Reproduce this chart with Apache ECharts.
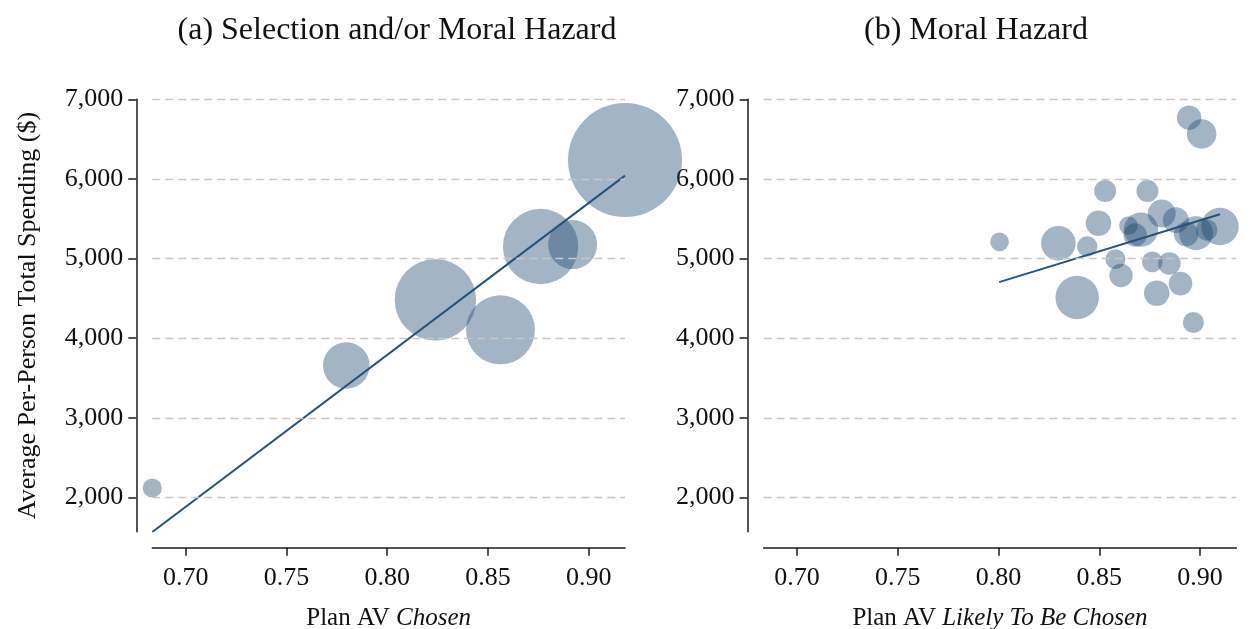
<!DOCTYPE html>
<html>
<head>
<meta charset="utf-8">
<script src="https://cdn.jsdelivr.net/npm/echarts@6/dist/echarts.min.js"></script>
<style>
  html, body { margin: 0; padding: 0; background: #fff; }
  #chart { width: 1252px; height: 629px; }
</style>
</head>
<body>
<div id="chart"></div>
<script>
// ---- data ----
const xTickValues = [0.70, 0.75, 0.80, 0.85, 0.90];
const yTickValues = [2000, 3000, 4000, 5000, 6000, 7000];

// Panel (a): plan AV chosen
const chosenAV     = [0.6834, 0.7797, 0.8239, 0.8562, 0.8761, 0.8920, 0.9180];
const chosenSpend  = [2119, 3657, 4482, 4105, 5151, 5176, 6238];
const chosenWeight = [2.8, 16.7, 51.0, 36.6, 43.7, 18.5, 100];
const chosenFitAV    = [0.6834, 0.9180];
const chosenFitSpend = [1567, 6041];

// Panel (b): plan AV likely to be chosen
const likelyAV = [0.8005, 0.8297, 0.8390, 0.8440, 0.8496, 0.8529, 0.8580, 0.8608, 0.8645, 0.8678,
                  0.8707, 0.8739, 0.8763, 0.8785, 0.8810, 0.8848, 0.8880, 0.8903, 0.8931, 0.8946,
                  0.8967, 0.8980, 0.9008, 0.9033, 0.9099];
const likelySpend = [5210, 5193, 4511, 5151, 5444, 5849, 4992, 4787, 5414, 5297,
                     5364, 5849, 4959, 4566, 5565, 4937, 5482, 4686, 5306, 6769,
                     4197, 5319, 6565, 5360, 5402];
const likelyWeight = [2.7, 9.2, 14.5, 3.2, 5.0, 3.7, 3.1, 4.2, 2.7, 4.2,
                      9.1, 3.7, 3.3, 5.0, 6.0, 3.9, 5.2, 4.3, 4.6, 4.6,
                      3.4, 8.9, 6.7, 3.5, 10.8];
const likelyFitAV    = [0.8003, 0.9099];
const likelyFitSpend = [4704, 5557];

const titles = ['(a) Selection and/or Moral Hazard', '(b) Moral Hazard'];

// ---- styles ----
const FONT = 'Liberation Serif';
const NAVY = '#1a476f';
const MAX_DIAM = 114;
const X_MIN = 0.6834, X_MAX = 0.918;
const Y_MIN = 1570, Y_MAX = 7000;

const zip = (a, b, c) => a.map((v, i) => c ? [v, b[i], c[i]] : [v, b[i]]);
const fmtY = v => String(v).replace(/\B(?=(\d{3})+(?!\d))/g, ',');

function xAxisFor(idx, nameRich) {
  return {
    type: 'value', gridIndex: idx, min: X_MIN, max: X_MAX, offset: 16,
    axisLine: { show: true, onZero: false, lineStyle: { color: '#1a1a1a', width: 1.5 } },
    axisTick: { show: true, length: 8, customValues: xTickValues, lineStyle: { color: '#1a1a1a', width: 1.5 } },
    axisLabel: { customValues: xTickValues, formatter: v => v.toFixed(2), margin: 17,
                 fontFamily: FONT, fontSize: 26, color: '#111' },
    splitLine: { show: false },
    name: nameRich, nameLocation: 'middle', nameGap: 58,
    nameTextStyle: { fontFamily: FONT, fontSize: 25, color: '#111',
      rich: { it: { fontFamily: FONT, fontSize: 25, fontStyle: 'italic', color: '#111' },
              n: { fontFamily: FONT, fontSize: 25, color: '#111' } } }
  };
}
function yAxisFor(idx, name) {
  return {
    type: 'value', gridIndex: idx, min: Y_MIN, max: Y_MAX, offset: 16,
    axisLine: { show: true, lineStyle: { color: '#1a1a1a', width: 1.5 } },
    axisTick: { show: true, length: 8, customValues: yTickValues, lineStyle: { color: '#1a1a1a', width: 1.5 } },
    axisLabel: { customValues: yTickValues, formatter: fmtY, margin: 13,
                 fontFamily: FONT, fontSize: 26, color: '#111' },
    splitLine: { show: false },
    name: name, nameLocation: 'middle', nameGap: 95, nameRotate: 90,
    nameTextStyle: { fontFamily: FONT, fontSize: 26, color: '#111' }
  };
}
function gridLines() {
  return {
    silent: true, symbol: 'none', label: { show: false }, animation: false,
    lineStyle: { type: [8, 5], color: '#c8c8c8', width: 1.3 },
    emphasis: { disabled: true },
    data: yTickValues.map(v => ({ yAxis: v }))
  };
}
function bubbles(idx, data) {
  return {
    type: 'scatter', xAxisIndex: idx, yAxisIndex: idx, clip: false,
    data: data,
    symbolSize: v => MAX_DIAM * Math.sqrt(v[2] / 100),
    itemStyle: { color: NAVY, opacity: 0.4, borderWidth: 0 },
    markLine: gridLines(), z: 2
  };
}
function fit(idx, data) {
  return {
    type: 'line', xAxisIndex: idx, yAxisIndex: idx, data: data, showSymbol: false,
    symbol: 'none', lineStyle: { color: '#24527a', width: 2 }, z: 3, silent: true
  };
}

const chart = echarts.init(document.getElementById('chart'), null, { renderer: 'canvas' });
chart.setOption({
  animation: false,
  backgroundColor: '#fff',
  title: [
    { text: titles[0], left: 392, top: 10, textAlign: 'center',
      textStyle: { fontFamily: FONT, fontSize: 32, fontWeight: 'normal', color: '#111' } },
    { text: titles[1], left: 971, top: 10, textAlign: 'center',
      textStyle: { fontFamily: FONT, fontSize: 32, fontWeight: 'normal', color: '#111' } }
  ],
  grid: [
    { left: 152.3, top: 99.3, width: 472.7, height: 432.4, outerBoundsMode: 'none', containLabel: false },
    { left: 763.6, top: 99.3, width: 472.7, height: 432.4, outerBoundsMode: 'none', containLabel: false }
  ],
  xAxis: [
    xAxisFor(0, '{n|Plan AV }{it|Chosen}'),
    xAxisFor(1, '{n|Plan AV }{it|Likely To Be Chosen}')
  ],
  yAxis: [
    yAxisFor(0, 'Average Per-Person Total Spending ($)'),
    yAxisFor(1, '')
  ],
  series: [
    bubbles(0, zip(chosenAV, chosenSpend, chosenWeight)),
    fit(0, zip(chosenFitAV, chosenFitSpend)),
    bubbles(1, zip(likelyAV, likelySpend, likelyWeight)),
    fit(1, zip(likelyFitAV, likelyFitSpend))
  ]
});
</script>
</body>
</html>
